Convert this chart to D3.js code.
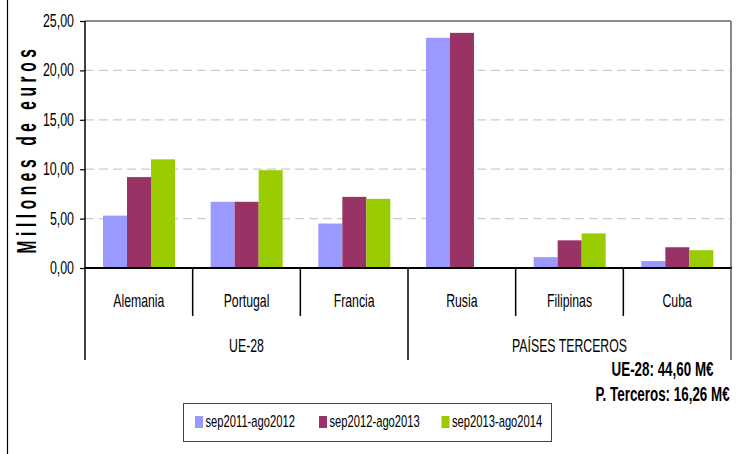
<!doctype html>
<html lang="es">
  <head>
    <meta charset="utf-8">
    <script src="https://d3js.org/d3.v7.min.js"></script>
    <title>Millones de euros</title>
    <style>
      body { margin: 0; background: #fff; }
      svg { display: block; font-family: "Liberation Sans", Arial, sans-serif; }
    </style>
  </head>
  <body>
    <div id="chart"></div>
    <script>
      // Datos
      const categories = ["Alemania", "Portugal", "Francia", "Rusia", "Filipinas", "Cuba"];
      const groupNames = ["UE-28", "PAÍSES TERCEROS"];
      const groupOf = [0, 0, 0, 1, 1, 1];
      const series = ["sep2011-ago2012", "sep2012-ago2013", "sep2013-ago2014"];
      const v2012 = [5.3, 6.7, 4.5, 23.3, 1.1, 0.7];
      const v2013 = [9.2, 6.7, 7.2, 23.8, 2.8, 2.1];
      const v2014 = [11.0, 9.9, 7.0, 0, 3.5, 1.8];
      const yTicks = [0, 5, 10, 15, 20, 25];
      const totals = ["UE-28: 44,60 M€", "P. Terceros: 16,26 M€"];
      const colors = ["#9999FF", "#993366", "#99CC00"];

      const values = [v2012, v2013, v2014];
      const W = 738, H = 454;
      const K = 1.45; // las letras del original son altas y estrechas

      const locale = d3.formatLocale({decimal: ",", thousands: ".", grouping: [3], currency: ["", "€"]});
      const fmt = locale.format(".2f");

      const svg = d3.select("#chart").append("svg")
        .attr("width", W).attr("height", H);

      const x = d3.scaleBand().domain(d3.range(categories.length)).range([85, 731]);
      const xs = d3.scaleBand().domain(d3.range(series.length)).range([18, 90]);
      const y = d3.scaleLinear().domain([0, 25]).range([268, 21]);

      function txt(g, px, py, s, size, anchor, bold) {
        return g.append("text")
          .attr("transform", "translate(" + px + "," + py + ") scale(1," + K + ")")
          .attr("font-size", size)
          .attr("text-anchor", anchor || "middle")
          .attr("font-weight", bold ? "bold" : "normal")
          .attr("fill", "#000")
          .text(s);
      }

      // borde izquierdo de la imagen
      svg.append("line").attr("x1", 7.5).attr("x2", 7.5).attr("y1", 0).attr("y2", H)
        .attr("stroke", "#000").attr("stroke-width", 1.2);

      // rejilla
      svg.append("g").selectAll("line")
        .data(yTicks.filter(d => d > 0 && d < 25))
        .join("line")
          .attr("x1", 85).attr("x2", 731)
          .attr("y1", d => y(d)).attr("y2", d => y(d))
          .attr("stroke", "#cccccc").attr("stroke-width", 1.2)
          .attr("stroke-dasharray", "9,5");

      // marco del área de trazado
      svg.append("line").attr("x1", 85).attr("x2", 731).attr("y1", y(25)).attr("y2", y(25))
        .attr("stroke", "#8a8a8a").attr("stroke-width", 2);
      svg.append("line").attr("x1", 731).attr("x2", 731).attr("y1", y(25)).attr("y2", y(0))
        .attr("stroke", "#8a8a8a").attr("stroke-width", 2);

      // barras
      series.forEach((s, si) => {
        svg.append("g").selectAll("rect")
          .data(values[si])
          .join("rect")
            .attr("x", (d, i) => x(i) + xs(si))
            .attr("width", xs.bandwidth())
            .attr("y", d => y(d))
            .attr("height", d => y(0) - y(d))
            .attr("fill", colors[si]);
      });

      // eje Y
      const yAxis = svg.append("g").attr("transform", "translate(85,0)");
      yAxis.call(d3.axisLeft(y).tickValues(yTicks).tickSize(5).tickFormat(""));
      yAxis.select(".domain").remove();
      yAxis.selectAll(".tick line").attr("stroke", "#000").attr("stroke-width", 1.2);
      yTicks.forEach(t => txt(svg, 74, y(t) + 6, fmt(t), 12.4, "end"));
      svg.append("line").attr("x1", 85).attr("x2", 85).attr("y1", y(25)).attr("y2", 360)
        .attr("stroke", "#000").attr("stroke-width", 1.5);

      // eje X
      svg.append("line").attr("x1", 85).attr("x2", 732).attr("y1", y(0)).attr("y2", y(0))
        .attr("stroke", "#000").attr("stroke-width", 2);
      categories.forEach((c, i) => {
        const edge = x(i) + x.bandwidth();
        const long = i === categories.length - 1 || groupOf[i] !== groupOf[i + 1];
        svg.append("line").attr("x1", edge).attr("x2", edge)
          .attr("y1", y(0)).attr("y2", long ? 360 : 316)
          .attr("stroke", long && i === categories.length - 1 ? "#555" : "#000")
          .attr("stroke-width", 1.5);
        txt(svg, x(i) + x.bandwidth() / 2, 306.5, c, 12.3);
      });
      groupNames.forEach((gname, gi) => {
        const idx = d3.range(categories.length).filter(i => groupOf[i] === gi);
        const x0 = x(idx[0]), x1 = x(idx[idx.length - 1]) + x.bandwidth();
        txt(svg, (x0 + x1) / 2, 352, gname, 12.3);
      });

      // título del eje Y
      svg.append("text")
        .attr("transform", "translate(36,149) rotate(-90) scale(1,1.75)")
        .attr("font-size", 15.5)
        .attr("font-weight", "bold")
        .attr("letter-spacing", 4.6)
        .attr("text-anchor", "middle")
        .text("Millones de euros");

      // totales
      txt(svg, 662.5, 376, totals[0], 13.4, "middle", true);
      txt(svg, 662.5, 401, totals[1], 13.4, "middle", true);

      // leyenda
      const leg = svg.append("g");
      leg.append("rect").attr("x", 183.5).attr("y", 403.5).attr("width", 368).attr("height", 38)
        .attr("fill", "#fff").attr("stroke", "#444").attr("stroke-width", 1);
      const legX = [195, 319, 441.5];
      series.forEach((s, si) => {
        leg.append("rect").attr("x", legX[si]).attr("y", 416).attr("width", 8).attr("height", 12)
          .attr("fill", colors[si]);
        txt(leg, legX[si] + 10.5, 426.5, s, 11.2, "start");
      });
    </script>
  </body>
</html>
